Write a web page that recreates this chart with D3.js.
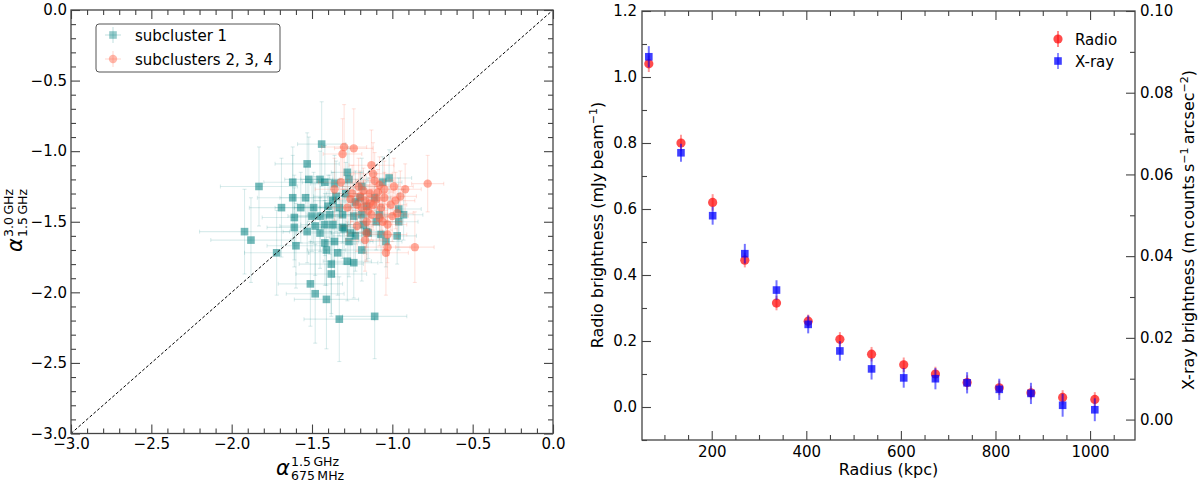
<!DOCTYPE html>
<html>
<head>
<meta charset="utf-8">
<script src="https://cdn.jsdelivr.net/npm/d3@7"></script>
<style>
  body { margin: 0; background: #fff; }
  text { font-family: "DejaVu Sans", sans-serif; }
</style>
</head>
<body>
<svg id="chart" width="1200" height="481"></svg>
<script>
// ---- left panel data: spectral index pairs (x = 675MHz-1.5GHz, y = 1.5-3.0GHz)
const sub1X = [-1.44,-1.83,-1.53,-1.62,-1.52,-1.45,-1.42,-1.28,-1.62,-1.54,-1.69,-1.49,-1.36,-1.61,-1.61,-1.48,-1.92,-1.88,-1.72,-1.60,-1.53,-1.42,-1.41,-1.36,-1.34,-1.38,-1.38,-1.51,-1.48,-1.41,-1.33,-1.11,-1.28,-1.24,-1.19,-1.27,-1.37,-1.42,-1.39,-1.31,-1.24,-1.30,-1.26,-1.23,-1.16,-1.15,-1.07,-1.04,-0.97,-0.96,-0.93,-0.96,-1.02,-1.06,-1.27,-1.19,-1.16,-1.19,-1.23,-1.35,-1.40,-1.45,-1.31,-1.37,-1.50,-1.11,-1.10,-1.18,-1.33,-1.29,-1.57,-1.45,-1.20,-1.08];
const sub1Y = [-0.95,-1.25,-1.09,-1.22,-1.20,-1.20,-1.22,-1.15,-1.33,-1.33,-1.40,-1.40,-1.23,-1.47,-1.54,-1.53,-1.57,-1.63,-1.72,-1.67,-1.57,-1.65,-1.70,-1.64,-1.72,-1.80,-1.87,-1.94,-2.01,-2.05,-2.19,-2.17,-1.78,-1.79,-1.70,-1.64,-1.52,-1.52,-1.45,-1.45,-1.46,-1.55,-1.58,-1.60,-1.57,-1.58,-1.59,-1.64,-1.60,-1.41,-1.45,-1.50,-1.19,-1.22,-1.20,-1.25,-1.39,-1.45,-1.36,-1.32,-1.39,-1.46,-1.54,-1.35,-1.46,-1.33,-1.50,-1.52,-1.40,-1.30,-1.40,-1.58,-1.33,-1.45];
const sub1XErr = [0.15,0.24,0.20,0.18,0.15,0.12,0.14,0.10,0.22,0.16,0.20,0.12,0.15,0.20,0.17,0.22,0.28,0.25,0.20,0.18,0.15,0.20,0.12,0.15,0.18,0.20,0.22,0.20,0.18,0.20,0.22,0.20,0.15,0.15,0.14,0.15,0.16,0.15,0.14,0.12,0.10,0.14,0.12,0.14,0.10,0.12,0.12,0.10,0.12,0.14,0.12,0.12,0.14,0.12,0.12,0.12,0.10,0.12,0.12,0.14,0.15,0.14,0.12,0.12,0.15,0.10,0.12,0.10,0.12,0.12,0.16,0.15,0.10,0.12];
const sub1YErr = [0.30,0.28,0.22,0.25,0.30,0.20,0.26,0.18,0.30,0.22,0.35,0.25,0.20,0.30,0.28,0.35,0.30,0.30,0.30,0.30,0.22,0.30,0.25,0.25,0.30,0.35,0.30,0.30,0.35,0.35,0.30,0.30,0.28,0.25,0.22,0.25,0.25,0.22,0.28,0.20,0.20,0.25,0.22,0.25,0.20,0.18,0.20,0.18,0.20,0.22,0.18,0.20,0.20,0.18,0.22,0.20,0.18,0.20,0.22,0.25,0.22,0.25,0.22,0.20,0.25,0.18,0.20,0.18,0.20,0.22,0.25,0.25,0.18,0.18];

const sub234X = [-1.30,-1.24,-1.31,-1.13,-1.12,-0.78,-1.32,-1.36,-1.21,-1.05,-0.92,-0.95,-0.98,-1.08,-1.16,-1.22,-1.16,-1.03,-1.03,-1.04,-0.86,-1.00,-1.28,-1.20,-1.17,-1.14,-1.10,-1.12,-1.07,-1.15,-1.22,-1.18,-1.05,-1.09,-1.25,-1.13,-1.01,-1.19,-1.08,-0.97,-1.26,-1.11,-1.06,-1.14,-0.99,-1.03,-1.17];
const sub234Y = [-0.97,-0.98,-1.02,-1.10,-1.16,-1.23,-1.22,-1.27,-1.25,-1.27,-1.27,-1.32,-1.35,-1.47,-1.50,-1.53,-1.58,-1.59,-1.68,-1.72,-1.68,-1.46,-1.40,-1.32,-1.35,-1.30,-1.34,-1.38,-1.40,-1.42,-1.38,-1.28,-1.33,-1.29,-1.30,-1.45,-1.38,-1.40,-1.24,-1.44,-1.34,-1.21,-1.50,-1.37,-1.25,-1.52,-1.63];
const sub234XErr = [0.14,0.12,0.12,0.14,0.12,0.10,0.14,0.12,0.12,0.12,0.10,0.10,0.12,0.12,0.10,0.10,0.12,0.12,0.14,0.14,0.12,0.10,0.12,0.10,0.10,0.10,0.10,0.10,0.10,0.10,0.10,0.10,0.10,0.10,0.12,0.10,0.10,0.10,0.12,0.10,0.10,0.12,0.12,0.10,0.12,0.12,0.12];
const sub234YErr = [0.30,0.28,0.25,0.25,0.22,0.20,0.25,0.22,0.20,0.20,0.18,0.18,0.20,0.20,0.18,0.18,0.20,0.20,0.22,0.30,0.25,0.18,0.20,0.18,0.18,0.16,0.18,0.18,0.16,0.18,0.18,0.16,0.18,0.16,0.20,0.18,0.18,0.18,0.20,0.18,0.18,0.20,0.20,0.18,0.20,0.22,0.22];

// ---- right panel data: radial profiles
const radius = [67, 135, 202, 270, 337, 404, 471, 538, 606, 673, 740, 808, 875, 942, 1010];
const radioVal = [1.04, 0.80, 0.62, 0.445, 0.315, 0.26, 0.205, 0.16, 0.128, 0.10, 0.074, 0.058, 0.043, 0.029, 0.023];
const radioErr = [0.025, 0.025, 0.025, 0.022, 0.022, 0.02, 0.022, 0.022, 0.022, 0.022, 0.022, 0.022, 0.02, 0.022, 0.022];
const xrayVal = [0.0888, 0.0653, 0.0499, 0.0406, 0.0317, 0.0233, 0.0168, 0.0124, 0.0102, 0.0100, 0.0090, 0.0074, 0.0064, 0.0035, 0.0024];
const xrayErr = [0.0026, 0.0022, 0.0022, 0.0024, 0.0024, 0.0022, 0.0024, 0.0026, 0.0024, 0.0026, 0.0026, 0.0026, 0.0026, 0.0028, 0.0028];

// tick values
const leftMajor = [-3, -2.5, -2, -1.5, -1, -0.5, 0];
const leftMinor = d3.range(-30, 1).map(d => d / 10);
const radMajor = [200, 400, 600, 800, 1000];
const radMinor = d3.range(100, 1100, 50);
const radioMajor = [0, 0.2, 0.4, 0.6, 0.8, 1.0, 1.2];
const radioMinor = d3.range(-1, 13).map(d => d / 10);
const xrayMajor = [0, 0.02, 0.04, 0.06, 0.08, 0.10];
const xrayMinor = d3.range(0, 11).map(d => d / 100);

const svg = d3.select("#chart");
const AX = "#444";

// draws major + minor inward ticks for one side
function ticks(gen, scale, pos, major, minor, fmt, pad) {
    const minorOnly = minor.filter(m => !major.some(M => Math.abs(M - m) < 1e-9));
    const gm = svg.append("g").attr("transform", pos)
        .call(gen(scale).tickValues(minorOnly).tickSize(-5).tickSizeOuter(0).tickFormat(""));
    const gM = svg.append("g").attr("transform", pos)
        .call(gen(scale).tickValues(major).tickSize(-9).tickSizeOuter(0)
            .tickPadding(pad || 5).tickFormat(fmt || (() => "")));
    [gm, gM].forEach(g => {
        g.select(".domain").remove();
        g.selectAll("line").attr("stroke", AX).attr("stroke-width", 1.1);
        g.attr("font-size", 15).attr("font-family", "DejaVu Sans");
        g.selectAll("text").attr("fill", "#000");
    });
}

// ================= left panel =================
const L = { left: 71, right: 553, top: 10, bottom: 433.5 };
const xL = d3.scaleLinear().domain([-3, 0]).range([L.left, L.right]);
const yL = d3.scaleLinear().domain([-3, 0]).range([L.bottom, L.top]);

const sub1 = sub1X.map((x, i) => ({ x, y: sub1Y[i], ex: sub1XErr[i], ey: sub1YErr[i] }));
const sub234 = sub234X.map((x, i) => ({ x, y: sub234Y[i], ex: sub234XErr[i], ey: sub234YErr[i] }));

function errbars(g, data, color, op) {
    const cap = 2;
    data.forEach(d => {
        const cx = xL(d.x), cy = yL(d.y);
        const x0 = xL(d.x - d.ex), x1 = xL(d.x + d.ex);
        const y0 = yL(d.y - d.ey), y1 = yL(d.y + d.ey);
        const segs = [[x0, cy, x1, cy], [cx, y0, cx, y1],
            [x0, cy - cap, x0, cy + cap], [x1, cy - cap, x1, cy + cap],
            [cx - cap, y0, cx + cap, y0], [cx - cap, y1, cx + cap, y1]];
        segs.forEach(s => g.append("line")
            .attr("x1", s[0]).attr("y1", s[1]).attr("x2", s[2]).attr("y2", s[3])
            .attr("stroke", color).attr("stroke-opacity", op).attr("stroke-width", 1.1));
    });
}

const gLeft = svg.append("g");
errbars(gLeft, sub1, "teal", 0.15);
gLeft.selectAll("rect.s1").data(sub1).join("rect")
    .attr("x", d => xL(d.x) - 3.8).attr("y", d => yL(d.y) - 3.8)
    .attr("width", 7.6).attr("height", 7.6)
    .attr("fill", "teal").attr("fill-opacity", 0.55);
errbars(gLeft, sub234, "tomato", 0.18);
gLeft.selectAll("circle.s2").data(sub234).join("circle")
    .attr("cx", d => xL(d.x)).attr("cy", d => yL(d.y)).attr("r", 4.2)
    .attr("fill", "tomato").attr("fill-opacity", 0.55);

// one-to-one line
svg.append("line")
    .attr("x1", xL(-3)).attr("y1", yL(-3)).attr("x2", xL(0)).attr("y2", yL(0))
    .attr("stroke", "#000").attr("stroke-width", 1).attr("stroke-dasharray", "3,2");

const fmt1 = d3.format(".1f");
ticks(d3.axisBottom, xL, `translate(0,${L.bottom})`, leftMajor, leftMinor, fmt1, 5);
ticks(d3.axisTop, xL, `translate(0,${L.top})`, leftMajor, leftMinor);
ticks(d3.axisLeft, yL, `translate(${L.left},0)`, leftMajor, leftMinor, fmt1, 4);
ticks(d3.axisRight, yL, `translate(${L.right},0)`, leftMajor, leftMinor);
svg.append("rect").attr("x", L.left).attr("y", L.top)
    .attr("width", L.right - L.left).attr("height", L.bottom - L.top)
    .attr("fill", "none").attr("stroke", AX).attr("stroke-width", 1.3);

// legend
const lg = svg.append("g");
lg.append("rect").attr("x", 96).attr("y", 24).attr("width", 184).attr("height", 48).attr("rx", 3)
    .attr("fill", "#fff").attr("fill-opacity", 0.8).attr("stroke", "#555").attr("stroke-width", 1);
[["subcluster 1", "teal", 0.15], ["subclusters 2, 3, 4", "tomato", 0.18]].forEach((e, i) => {
    const cy = 35 + i * 24, cx = 113;
    lg.append("line").attr("x1", cx - 8).attr("x2", cx + 8).attr("y1", cy).attr("y2", cy)
        .attr("stroke", e[1]).attr("stroke-opacity", e[2] + 0.1);
    lg.append("line").attr("x1", cx).attr("x2", cx).attr("y1", cy - 8).attr("y2", cy + 8)
        .attr("stroke", e[1]).attr("stroke-opacity", e[2] + 0.1);
    if (i === 0) lg.append("rect").attr("x", cx - 3.8).attr("y", cy - 3.8).attr("width", 7.6).attr("height", 7.6)
        .attr("fill", "teal").attr("fill-opacity", 0.4);
    else lg.append("circle").attr("cx", cx).attr("cy", cy).attr("r", 4.2)
        .attr("fill", "tomato").attr("fill-opacity", 0.45);
    lg.append("text").attr("x", 135).attr("y", cy + 5.5).attr("font-size", 15).text(e[0]);
});

// axis labels (alpha with stacked frequencies)
function alphaLabel(g, sup, sub) {
    g.append("text").attr("x", 0).attr("y", 0).attr("font-size", 21).attr("font-style", "italic").text("α");
    g.append("text").attr("x", 15).attr("y", -9.5).attr("font-size", 12.5).text(sup);
    g.append("text").attr("x", 15).attr("y", 4.5).attr("font-size", 12.5).text(sub);
}
alphaLabel(svg.append("g").attr("transform", "translate(276,475)"), "1.5\u2009GHz", "675\u2009MHz");
alphaLabel(svg.append("g").attr("transform", "translate(22,252) rotate(-90)"), "3.0\u2009GHz", "1.5\u2009GHz");

// ================= right panel =================
const R = { left: 642, right: 1135, top: 11, bottom: 440 };
const xR = d3.scaleLinear().domain([52.6, 1095]).range([R.left, R.right]);
const yRadio = d3.scaleLinear().domain([-0.1, 1.2]).range([R.bottom, R.top]);
const yXray = d3.scaleLinear().domain([-0.005, 0.1]).range([R.bottom, R.top]);

const radio = radius.map((r, i) => ({ r, v: radioVal[i], e: radioErr[i] }));
const xray = radius.map((r, i) => ({ r, v: xrayVal[i], e: xrayErr[i] }));

const gRight = svg.append("g");
gRight.selectAll("line.re").data(radio).join("line")
    .attr("x1", d => xR(d.r)).attr("x2", d => xR(d.r))
    .attr("y1", d => yRadio(d.v - d.e)).attr("y2", d => yRadio(d.v + d.e))
    .attr("stroke", "red").attr("stroke-opacity", 0.4).attr("stroke-width", 2);
gRight.selectAll("circle.rc").data(radio).join("circle")
    .attr("cx", d => xR(d.r)).attr("cy", d => yRadio(d.v)).attr("r", 4.6)
    .attr("fill", "red").attr("fill-opacity", 0.7);
gRight.selectAll("line.xe").data(xray).join("line")
    .attr("x1", d => xR(d.r)).attr("x2", d => xR(d.r))
    .attr("y1", d => yXray(d.v - d.e)).attr("y2", d => yXray(d.v + d.e))
    .attr("stroke", "blue").attr("stroke-opacity", 0.55).attr("stroke-width", 2);
gRight.selectAll("rect.xs").data(xray).join("rect")
    .attr("x", d => xR(d.r) - 3.8).attr("y", d => yXray(d.v) - 3.8)
    .attr("width", 7.6).attr("height", 7.6)
    .attr("fill", "blue").attr("fill-opacity", 0.75);

ticks(d3.axisBottom, xR, `translate(0,${R.bottom})`, radMajor, radMinor, d3.format("d"), 6);
ticks(d3.axisTop, xR, `translate(0,${R.top})`, radMajor, radMinor);
ticks(d3.axisLeft, yRadio, `translate(${R.left},0)`, radioMajor, radioMinor, fmt1, 5);
ticks(d3.axisRight, yXray, `translate(${R.right},0)`, xrayMajor, xrayMinor, d3.format(".2f"), 5);
svg.append("rect").attr("x", R.left).attr("y", R.top)
    .attr("width", R.right - R.left).attr("height", R.bottom - R.top)
    .attr("fill", "none").attr("stroke", AX).attr("stroke-width", 1.3);

// legend (no frame)
[["Radio", "red"], ["X-ray", "blue"]].forEach((e, i) => {
    const cx = 1058, cy = 39 + i * 22;
    svg.append("line").attr("x1", cx).attr("x2", cx).attr("y1", cy - 8).attr("y2", cy + 8)
        .attr("stroke", e[1]).attr("stroke-opacity", 0.45).attr("stroke-width", 2);
    if (i === 0) svg.append("circle").attr("cx", cx).attr("cy", cy).attr("r", 4.6)
        .attr("fill", "red").attr("fill-opacity", 0.7);
    else svg.append("rect").attr("x", cx - 3.8).attr("y", cy - 3.8).attr("width", 7.6).attr("height", 7.6)
        .attr("fill", "blue").attr("fill-opacity", 0.75);
    svg.append("text").attr("x", 1075).attr("y", cy + 5.5).attr("font-size", 15).text(e[0]);
});

// axis titles
svg.append("text").attr("x", (R.left + R.right) / 2).attr("y", 475)
    .attr("text-anchor", "middle").attr("font-size", 16).text("Radius (kpc)");

const ylab = svg.append("text").attr("transform", "translate(603,225) rotate(-90)")
    .attr("text-anchor", "middle").attr("font-size", 16);
ylab.append("tspan").text("Radio brightness (mJy\u2009beam");
ylab.append("tspan").attr("dy", -6).attr("font-size", 11).text("−1");
ylab.append("tspan").attr("dy", 6).text(")");

const ylab2 = svg.append("text").attr("transform", "translate(1194,230) rotate(-90)")
    .attr("text-anchor", "middle").attr("font-size", 16);
ylab2.append("tspan").text("X-ray brightness (m\u2009counts\u2009s");
ylab2.append("tspan").attr("dy", -6).attr("font-size", 11).text("−1");
ylab2.append("tspan").attr("dy", 6).text("\u2009arcsec");
ylab2.append("tspan").attr("dy", -6).attr("font-size", 11).text("−2");
ylab2.append("tspan").attr("dy", 6).text(")");
</script>
</body>
</html>
